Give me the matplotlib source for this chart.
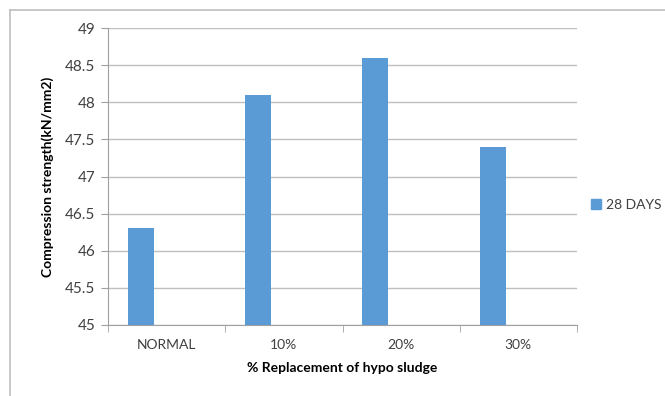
import matplotlib
matplotlib.use("Agg")
import matplotlib.pyplot as plt
from matplotlib.lines import Line2D
import numpy as np

categories = ["NORMAL", "10%", "20%", "30%"]
strength_28_days = [46.3, 48.1, 48.6, 47.4]
y_ticks = [45, 45.5, 46, 46.5, 47, 47.5, 48, 48.5, 49]
y_tick_labels = ["45", "45.5", "46", "46.5", "47", "47.5", "48", "48.5", "49"]
series_name = "28 DAYS"

plt.rcParams["font.family"] = ["Lato", "DejaVu Sans"]

W, H = 665, 396
fig = plt.figure(figsize=(W / 100, H / 100), dpi=100)
ax = fig.add_axes([108 / W, 1 - 325 / H, (577 - 108) / W, (325 - 28) / H])

x = np.arange(len(categories))
bar_w = 0.222
offset = -0.5 + 0.17 + bar_w / 2
ax.bar(x + offset, strength_28_days, width=bar_w, color="#5B9BD5",
       zorder=3, label=series_name)

ax.set_xlim(-0.5, len(categories) - 0.5)
ax.set_ylim(45, 49)
ax.set_yticks(y_ticks)
ax.set_yticklabels(y_tick_labels)
ax.set_xticks(x)
ax.set_xticklabels(categories)
ax.set_xticks(np.arange(len(categories) + 1) - 0.5, minor=True)
ax.tick_params(axis="x", which="major", length=0, pad=10, labelsize=10, colors="#404040")
ax.tick_params(axis="x", which="minor", length=5, color="#A0A0A0", direction="out")
ax.tick_params(axis="y", length=5, color="#A0A0A0", direction="out", pad=4,
               labelsize=11, labelcolor="#404040")

ax.grid(axis="y", color="#BFBFBF", linewidth=1, zorder=0)
for s in ["top", "right"]:
    ax.spines[s].set_visible(False)
ax.spines["left"].set_color("#A0A0A0")
ax.spines["bottom"].set_color("#A0A0A0")

ax.set_ylabel("Compression strength(kN/mm2)", fontsize=10, fontweight="bold",
              color="black", labelpad=8)
ax.set_xlabel("% Replacement of hypo sludge", fontsize=10, fontweight="bold",
              color="black", labelpad=8)

leg = fig.legend(handles=[plt.Rectangle((0, 0), 1, 1, color="#5B9BD5")],
                 labels=[series_name], loc="center left",
                 bbox_to_anchor=(588 / W, 1 - 205 / H), frameon=False,
                 borderaxespad=0, borderpad=0.2,
                 handlelength=0.7, handleheight=0.7, handletextpad=0.4,
                 fontsize=10)
for t in leg.get_texts():
    t.set_color("#404040")

# outer chart frame (top and left edges)
fig.add_artist(Line2D([10 / W, 1], [1 - 10 / H, 1 - 10 / H],
                      transform=fig.transFigure, color="#BFBFBF", linewidth=1.2))
fig.add_artist(Line2D([10 / W, 10 / W], [0, 1 - 10 / H],
                      transform=fig.transFigure, color="#BFBFBF", linewidth=1.2))

fig.savefig("out.png", dpi=100)
